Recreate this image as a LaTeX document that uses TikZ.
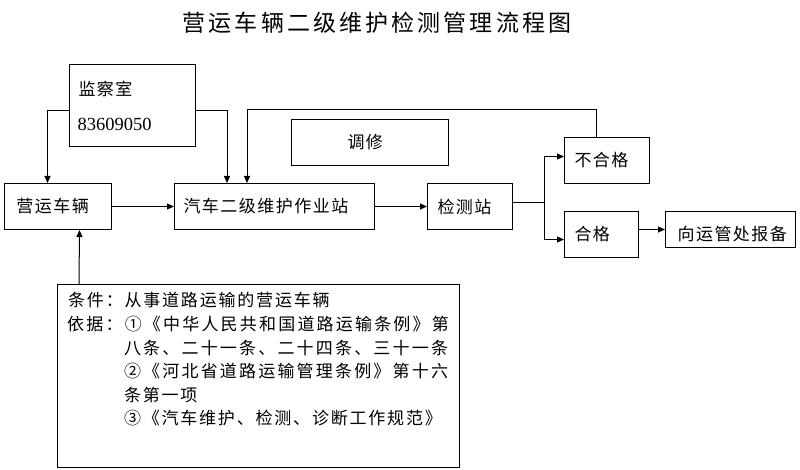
\documentclass[tikz,border=0pt]{standalone}
\usepackage{fontspec}
\usetikzlibrary{arrows.meta}
\newfontfamily\cjk[LetterSpace=8.8]{Noto Sans CJK SC}
\newfontfamily\cjkcond[LetterSpace=10.6]{Noto Sans CJK SC}
\newfontfamily\cjkjust[LetterSpace=12.9]{Noto Sans CJK SC}
\newfontfamily\cjktitle[LetterSpace=13.5]{Noto Sans CJK SC}
\newfontfamily\numfont{Liberation Serif}
\newcommand\bodyfont{\cjk\fontsize{17pt}{20pt}\selectfont}
\newcommand\condfont{\cjkcond\fontsize{17pt}{20pt}\selectfont}
\newcommand\justfont{\cjkjust\fontsize{17pt}{20pt}\selectfont}
\newcommand\titlefont{\cjktitle\fontsize{23pt}{26pt}\selectfont}
\tikzset{
  box/.style={draw, line width=1pt, anchor=north west, inner sep=0pt, align=left, font=\bodyfont},
  bx/.style 2 args={minimum width=#1pt, text width=#1pt, minimum height=#2pt},
  arr/.style={line width=1pt, -{Triangle[length=7pt,width=6pt]}},
  ln/.style={line width=1pt},
  cond/.style={anchor=base west, inner sep=0pt, font=\condfont},
  just/.style={anchor=base west, inner sep=0pt, font=\justfont}
}
\begin{document}
\begin{tikzpicture}[x=1pt,y=-1pt]
\useasboundingbox (0,0) rectangle (800,470);
\node[font=\titlefont, inner sep=0pt] (title) at (377,23) {营运车辆二级维护检测管理流程图};
\node[box, bx={126}{82}, font=\cjk\fontsize{17pt}{35pt}\selectfont] (jc) at (69,64)
  {\hspace*{9pt}监察室\\\hspace*{8pt}{\numfont\fontsize{18.5pt}{35pt}\selectfont 83609050}};
\node[box, bx={107}{46}] (yy) at (4,183) {\hspace*{12pt}营运车辆};
\node[box, bx={200}{46}] (zy) at (174,183) {\hspace*{9pt}汽车二级维护作业站};
\node[box, bx={157}{46}] (tx) at (291,119) {\hspace*{56pt}调修};
\node[box, bx={85}{46}] (jcz) at (427,183) {\hspace*{10pt}检测站};
\node[box, bx={85}{46}] (bhg) at (564,137) {\hspace*{10pt}不合格};
\node[box, bx={74}{46}] (hg) at (564,211) {\hspace*{10pt}合格};
\node[box, bx={130}{36}] (bb) at (665,211) {\hspace*{12pt}\raisebox{-5pt}[\height][\depth]{向运管处报备}};
\node[box, bx={402}{183}] (tj) at (57,284) {};
\node[cond] (c1) at (68,306.8) {条件：从事道路运输的营运车辆};
\node[just] (c2) at (67,330.4) {依据：①《中华人民共和国道路运输条例》第};
\node[just] (c3) at (123.8,354) {八条、二十一条、二十四条、三十一条};
\node[just] (c4) at (123.8,377.6) {②《河北省道路运输管理条例》第十六};
\node[cond] (c5) at (123.8,401.2) {条第一项};
\node[cond] (c6) at (123.8,424.8) {③《汽车维护、检测、诊断工作规范》};
\draw[arr] ([yshift=-5pt]jc.west) -| ([xshift=-10.5pt]yy.north);
\draw[arr] ([yshift=-5pt]jc.east) -| ([xshift=53pt]zy.north west);
\draw[arr] ([xshift=-10.5pt]bhg.north) -- ++(0,-27) -| ([xshift=73pt]zy.north west);
\draw[arr] (yy.east) -- (zy.west);
\draw[arr] (zy.east) -- (jcz.west);
\coordinate (fork) at ([xshift=31pt,yshift=4pt]jcz.east);
\draw[ln] ([yshift=4pt]jcz.east) -- (fork);
\draw[arr] (fork) |- ([yshift=4pt]bhg.west);
\draw[arr] (fork) |- ([yshift=-5pt]hg.west);
\draw[arr] (hg.east |- bb.west) -- (bb.west);
\draw[arr] ([xshift=22pt]tj.north west) -- ([xshift=21.5pt]yy.south);
\end{tikzpicture}
\end{document}
